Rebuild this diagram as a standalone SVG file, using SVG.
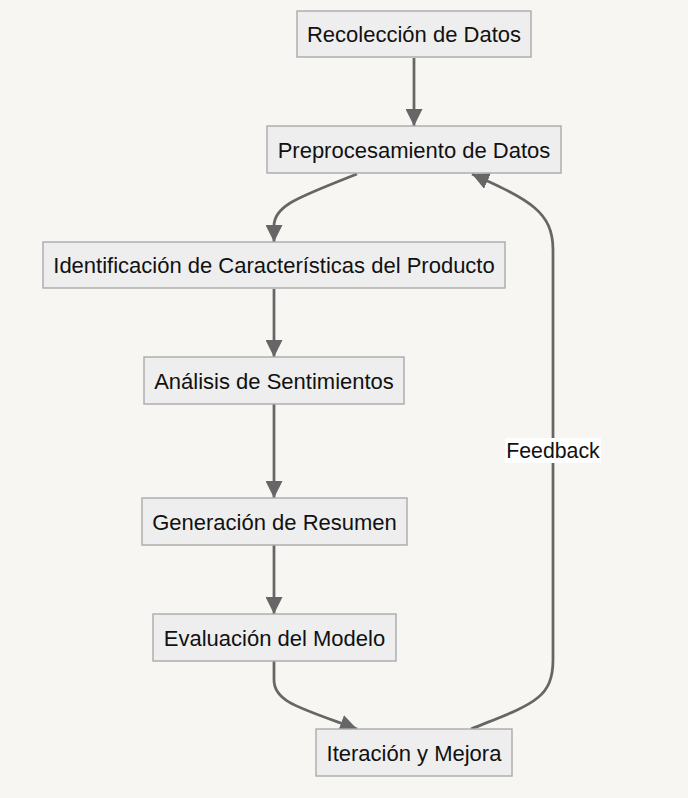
<svg xmlns="http://www.w3.org/2000/svg" width="688" height="798" viewBox="0 0 688 798">
<style>
.bg{fill:#f7f6f3}
.node rect{fill:#eeeeee;stroke:#aaaaaa;stroke-width:1.4}
.node text,.lbl text{font-family:"Liberation Sans",Arial,sans-serif;font-size:22px;fill:#111;text-anchor:middle}
.edge{fill:none;stroke:#666666;stroke-width:2.75}
</style>
<defs>
<marker id="ah" viewBox="0 0 10 10" refX="10" refY="5" markerWidth="17" markerHeight="17" markerUnits="userSpaceOnUse" orient="auto">
<path d="M0,0 L10,5 L0,10 z" fill="#666666"/>
</marker>
</defs>
<rect class="bg" x="0" y="0" width="688" height="798"/>
<g id="connectors">
<path class="edge" d="M414,58 L414,126" marker-end="url(#ah)"/>
<path class="edge" d="M357,174 C300,197 274,205 274,226 L274,242" marker-end="url(#ah)"/>
<path class="edge" d="M274,289 L274,357" marker-end="url(#ah)"/>
<path class="edge" d="M274,404 L274,498" marker-end="url(#ah)"/>
<path class="edge" d="M274,545 L274,614" marker-end="url(#ah)"/>
<path class="edge" d="M274,661 L274,680 C274,702 300,708 357,729" marker-end="url(#ah)"/>
<path class="edge" d="M471,729 C530,705 553,700 553,660 L553,250 C553,212 530,200 472,174" marker-end="url(#ah)"/>
</g>
<g id="label-feedback" class="lbl">
<rect x="505" y="438" width="96" height="25" fill="#ffffff"/>
<text x="553" y="458" style="font-size:21.3px">Feedback</text>
</g>
<g id="n1" class="node"><rect x="297" y="11" width="234" height="46"/><text x="414" y="42">Recolección de Datos</text></g>
<g id="n2" class="node"><rect x="267" y="126" width="294" height="47"/><text x="414" y="157.5">Preprocesamiento de Datos</text></g>
<g id="n3" class="node"><rect x="43" y="242" width="462" height="46"/><text x="274" y="273">Identificación de Características del Producto</text></g>
<g id="n4" class="node"><rect x="144" y="357" width="260" height="47"/><text x="274" y="388.5">Análisis de Sentimientos</text></g>
<g id="n5" class="node"><rect x="142" y="498" width="265" height="47"/><text x="274.5" y="529.5">Generación de Resumen</text></g>
<g id="n6" class="node"><rect x="153" y="614" width="243" height="47"/><text x="274.5" y="645.5">Evaluación del Modelo</text></g>
<g id="n7" class="node"><rect x="316" y="729" width="196" height="47"/><text x="414" y="760.5">Iteración y Mejora</text></g>
</svg>
